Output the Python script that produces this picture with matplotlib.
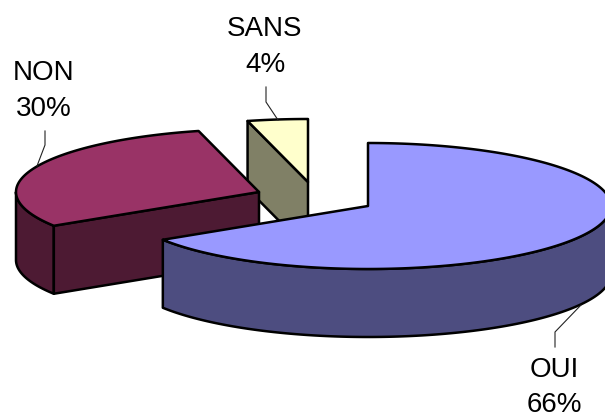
import matplotlib
matplotlib.use('Agg')
import matplotlib.pyplot as plt
from matplotlib.patches import Polygon
import numpy as np

# pie values, clockwise from 12 o'clock
labels = ['OUI', 'NON', 'SANS']
values = [66, 30, 4]
top_colors = ['#9999FF', '#993366', '#FFFFCC']
wall_colors = ['#4D4D80', '#4D1A33', '#808066']

# exploded centre of each slice, in pixels
centers = [(368, 207), (259, 193), (308, 183)]
rx, ry, depth = 243, 63, 68

label_pos = [(554, 388), (44, 91), (265, 47)]
leaders = [[(555, 348), (555, 333), (581, 306)],
           [(45, 132), (45, 146), (37, 167)],
           [(266, 88), (266, 103), (278, 121)]]

plt.rcParams['font.family'] = ['Liberation Sans', 'DejaVu Sans']
fig = plt.figure(figsize=(6.05, 4.14), dpi=100)
ax = fig.add_axes([0, 0, 1, 1])
ax.set_xlim(0, 605)
ax.set_ylim(414, 0)
ax.axis('off')


def rim(c, t0, t1):
    t = np.radians(np.linspace(t0, t1, 200))
    return np.column_stack([c[0] + rx * np.sin(t), c[1] - ry * np.cos(t)])


def draw_slice(c, t0, t1, top, wall):
    lw = 1.8
    # front wall is the part of the rim in the lower half
    a, b = max(t0, 90), min(t1, 270)
    if a < b:
        r = rim(c, a, b)
        ax.add_patch(Polygon(np.vstack([r, (r + [0, depth])[::-1]]), fc=wall, ec='black', lw=lw, joinstyle='round'))
    # cut face on the starting side, only seen when it looks to the viewer
    p = rim(c, t0, t0)[0]
    if t0 > 180:
        face = [p, c, (c[0], c[1] + depth), (p[0], p[1] + depth)]
        ax.add_patch(Polygon(face, fc=wall, ec='black', lw=lw, joinstyle='round'))
    ax.add_patch(Polygon(np.vstack([[c], rim(c, t0, t1)]), fc=top, ec='black', lw=lw, joinstyle='round'))


edges = np.cumsum([0] + values) / sum(values) * 360

# back slices first so the big one sits on top
for i in [2, 1, 0]:
    draw_slice(centers[i], edges[i], edges[i + 1], top_colors[i], wall_colors[i])

for i, name in enumerate(labels):
    ax.plot(*zip(*leaders[i]), color='#222222', lw=0.8)
    ax.text(label_pos[i][0], label_pos[i][1], f'{name}\n{values[i]}%', fontsize=20,
            ha='center', va='center', multialignment='center', linespacing=1.45, color='black')

fig.savefig('out.png', dpi=100)
